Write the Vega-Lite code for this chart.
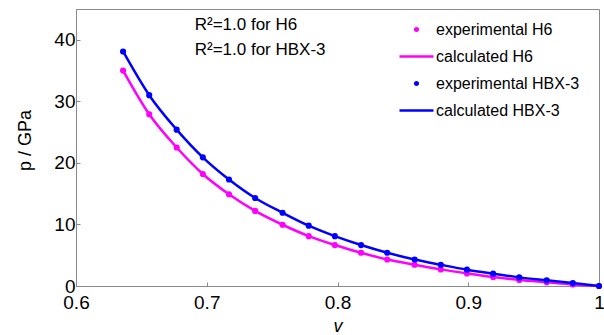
{
  "$schema": "https://vega.github.io/schema/vega-lite/v6.json",
  "width": 523,
  "height": 277,
  "autosize": "none",
  "padding": {"left": 76, "top": 9, "right": 5, "bottom": 49},
  "background": "white",
  "config": {
    "view": {"stroke": "#8a8a8a", "strokeWidth": 1},
    "font": "Liberation Sans, Arial, sans-serif",
    "axis": {"grid": false, "domainColor": "#8a8a8a", "tickColor": "#8a8a8a", "labelColor": "black", "titleColor": "black", "labelFont": "Liberation Sans, sans-serif", "titleFont": "Liberation Sans, Arial, sans-serif", "titleFontWeight": "normal"}
  },
  "data": {
    "values": [
      {"v": 0.636, "p": 35.0, "material": "H6", "exp": "experimental H6", "calc": "calculated H6"},
      {"v": 0.656, "p": 27.9, "material": "H6", "exp": "experimental H6", "calc": "calculated H6"},
      {"v": 0.677, "p": 22.5, "material": "H6", "exp": "experimental H6", "calc": "calculated H6"},
      {"v": 0.697, "p": 18.2, "material": "H6", "exp": "experimental H6", "calc": "calculated H6"},
      {"v": 0.717, "p": 14.9, "material": "H6", "exp": "experimental H6", "calc": "calculated H6"},
      {"v": 0.737, "p": 12.2, "material": "H6", "exp": "experimental H6", "calc": "calculated H6"},
      {"v": 0.758, "p": 9.95, "material": "H6", "exp": "experimental H6", "calc": "calculated H6"},
      {"v": 0.778, "p": 8.1, "material": "H6", "exp": "experimental H6", "calc": "calculated H6"},
      {"v": 0.798, "p": 6.65, "material": "H6", "exp": "experimental H6", "calc": "calculated H6"},
      {"v": 0.818, "p": 5.4, "material": "H6", "exp": "experimental H6", "calc": "calculated H6"},
      {"v": 0.838, "p": 4.3, "material": "H6", "exp": "experimental H6", "calc": "calculated H6"},
      {"v": 0.859, "p": 3.45, "material": "H6", "exp": "experimental H6", "calc": "calculated H6"},
      {"v": 0.879, "p": 2.7, "material": "H6", "exp": "experimental H6", "calc": "calculated H6"},
      {"v": 0.899, "p": 2.05, "material": "H6", "exp": "experimental H6", "calc": "calculated H6"},
      {"v": 0.919, "p": 1.45, "material": "H6", "exp": "experimental H6", "calc": "calculated H6"},
      {"v": 0.939, "p": 0.97, "material": "H6", "exp": "experimental H6", "calc": "calculated H6"},
      {"v": 0.96, "p": 0.6, "material": "H6", "exp": "experimental H6", "calc": "calculated H6"},
      {"v": 0.98, "p": 0.25, "material": "H6", "exp": "experimental H6", "calc": "calculated H6"},
      {"v": 1.0, "p": 0.0, "material": "H6", "exp": "experimental H6", "calc": "calculated H6"},
      {"v": 0.636, "p": 38.1, "material": "HBX-3", "exp": "experimental HBX-3", "calc": "calculated HBX-3"},
      {"v": 0.656, "p": 31.0, "material": "HBX-3", "exp": "experimental HBX-3", "calc": "calculated HBX-3"},
      {"v": 0.677, "p": 25.4, "material": "HBX-3", "exp": "experimental HBX-3", "calc": "calculated HBX-3"},
      {"v": 0.697, "p": 20.9, "material": "HBX-3", "exp": "experimental HBX-3", "calc": "calculated HBX-3"},
      {"v": 0.717, "p": 17.3, "material": "HBX-3", "exp": "experimental HBX-3", "calc": "calculated HBX-3"},
      {"v": 0.737, "p": 14.3, "material": "HBX-3", "exp": "experimental HBX-3", "calc": "calculated HBX-3"},
      {"v": 0.758, "p": 11.9, "material": "HBX-3", "exp": "experimental HBX-3", "calc": "calculated HBX-3"},
      {"v": 0.778, "p": 9.8, "material": "HBX-3", "exp": "experimental HBX-3", "calc": "calculated HBX-3"},
      {"v": 0.798, "p": 8.1, "material": "HBX-3", "exp": "experimental HBX-3", "calc": "calculated HBX-3"},
      {"v": 0.818, "p": 6.65, "material": "HBX-3", "exp": "experimental HBX-3", "calc": "calculated HBX-3"},
      {"v": 0.838, "p": 5.4, "material": "HBX-3", "exp": "experimental HBX-3", "calc": "calculated HBX-3"},
      {"v": 0.859, "p": 4.3, "material": "HBX-3", "exp": "experimental HBX-3", "calc": "calculated HBX-3"},
      {"v": 0.879, "p": 3.45, "material": "HBX-3", "exp": "experimental HBX-3", "calc": "calculated HBX-3"},
      {"v": 0.899, "p": 2.65, "material": "HBX-3", "exp": "experimental HBX-3", "calc": "calculated HBX-3"},
      {"v": 0.919, "p": 2.0, "material": "HBX-3", "exp": "experimental HBX-3", "calc": "calculated HBX-3"},
      {"v": 0.939, "p": 1.4, "material": "HBX-3", "exp": "experimental HBX-3", "calc": "calculated HBX-3"},
      {"v": 0.96, "p": 0.92, "material": "HBX-3", "exp": "experimental HBX-3", "calc": "calculated HBX-3"},
      {"v": 0.98, "p": 0.48, "material": "HBX-3", "exp": "experimental HBX-3", "calc": "calculated HBX-3"},
      {"v": 1.0, "p": 0.0, "material": "HBX-3", "exp": "experimental HBX-3", "calc": "calculated HBX-3"}
    ]
  },
  "encoding": {
    "x": {
      "field": "v", "type": "quantitative",
      "scale": {"domain": [0.6, 1], "nice": false, "zero": false},
      "axis": {"title": "v", "titleFontStyle": "italic", "titleFontSize": 18, "titlePadding": 5, "values": [0.6, 0.7, 0.8, 0.9, 1], "format": "~g", "labelFontSize": 19, "tickSize": -4, "labelPadding": 11, "labelFlush": false, "labelOverlap": false}
    },
    "y": {
      "field": "p", "type": "quantitative",
      "scale": {"domain": [0, 45], "nice": false},
      "axis": {"title": "p / GPa", "titleFontSize": 18, "titlePadding": 19, "titleY": 131, "values": [0, 10, 20, 30, 40], "labelFontSize": 19, "tickSize": -4, "labelPadding": 5, "labelFlush": false, "labelOverlap": false}
    }
  },
  "layer": [
    {
      "mark": {"type": "line", "interpolate": "monotone", "strokeWidth": 2.5},
      "encoding": {
        "color": {
          "field": "calc", "type": "nominal",
          "scale": {"domain": ["experimental H6", "calculated H6", "experimental HBX-3", "calculated HBX-3"], "range": ["#ff00ff", "#ff00ff", "#0000ff", "#0000ff"]},
          "legend": {
            "title": null, "orient": "none", "legendX": 332, "legendY": 12, "padding": 0,
            "symbolSize": 185, "symbolStrokeWidth": 2.5, "labelFontSize": 16, "labelOffset": 11, "rowPadding": 10, "labelLimit": 200,
            "labelColor": "black", "labelFont": "Liberation Sans, sans-serif",
            "encode": {
              "symbols": {
                "update": {
                  "shape": {"signal": "indexof(datum.value, 'calculated') >= 0 ? 'M-2.5,0H2.5' : 'M-0.2,0A0.2,0.2 0 1,1 0.2,0A0.2,0.2 0 1,1 -0.2,0Z'"}
                }
              }
            }
          }
        }
      }
    },
    {
      "mark": {"type": "point", "filled": true, "size": 38, "opacity": 1},
      "encoding": {
        "color": {"field": "exp", "type": "nominal"}
      }
    },
    {
      "data": {"values": [
        {"v": 0.6908, "p": 42.4, "label": "R²=1.0 for H6"},
        {"v": 0.6908, "p": 38.4, "label": "R²=1.0 for HBX-3"}
      ]},
      "mark": {"type": "text", "align": "left", "baseline": "middle", "fontSize": 17, "font": "Liberation Sans, sans-serif", "color": "black"},
      "encoding": {
        "text": {"field": "label", "type": "nominal"}
      }
    }
  ]
}
